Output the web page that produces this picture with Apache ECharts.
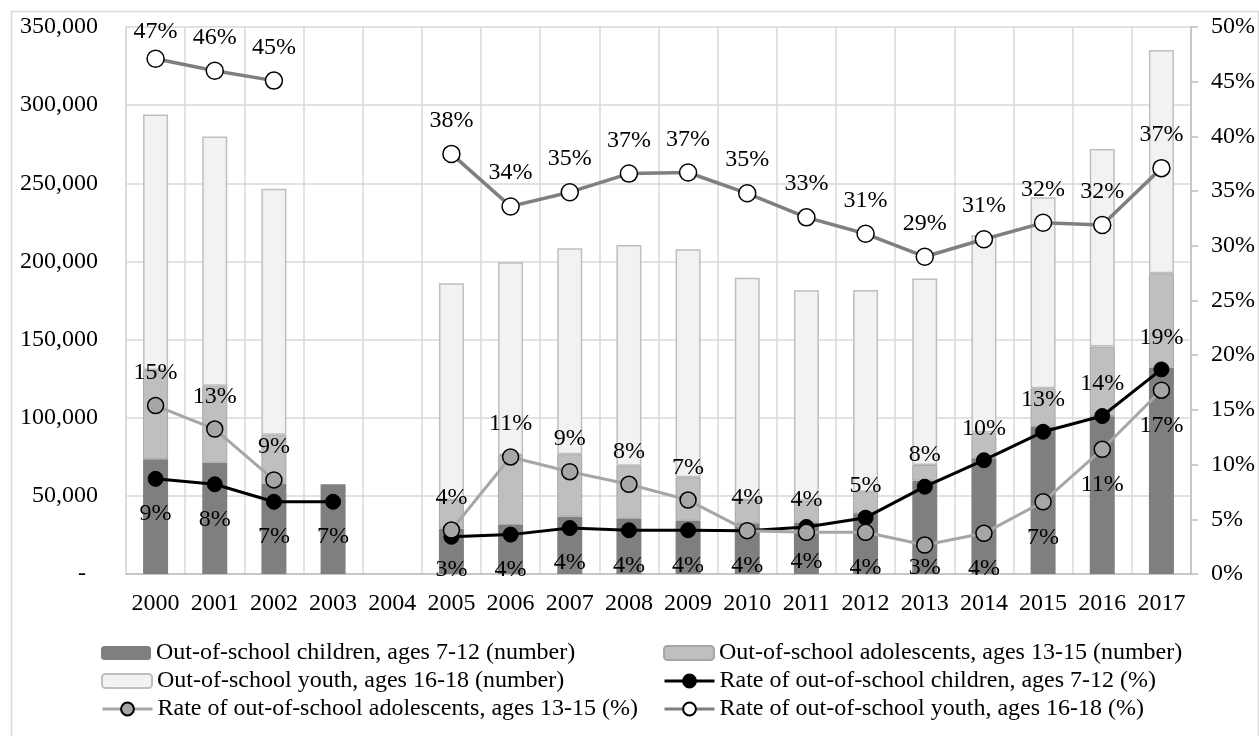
<!DOCTYPE html>
<html>
<head>
<meta charset="utf-8">
<script src="https://cdn.jsdelivr.net/npm/echarts@6/dist/echarts.min.js"></script>
<style>
  html, body { margin: 0; padding: 0; background: #ffffff; }
  #chart { width: 1259px; height: 736px; }
</style>
</head>
<body>
<div id="chart"></div>
<script>
// Years on the category axis
const years = ['2000', '2001', '2002', '2003', '2004', '2005', '2006', '2007', '2008',
  '2009', '2010', '2011', '2012', '2013', '2014', '2015', '2016', '2017'];

// Out-of-school numbers (left axis), stacked
const childrenNumber = [73500, 71200, 57800, 57500, null, 29000, 31350, 36700, 35200,
  34100, 32400, 33000, 38800, 59700, 74000, 94300, 101000, 132000];
const adolescentsNumber = [57000, 49300, 31350, null, null, 18350, 44800, 39900, 34100,
  27800, 14950, 14000, 13900, 10050, 16500, 24500, 44500, 60400];
const youthNumber = [163500, 159500, 157350, null, null, 138650, 123350, 131800, 141200,
  145850, 142250, 134500, 129000, 119250, 126200, 122200, 126500, 142900];

// Out-of-school rates in percent (right axis)
const childrenRate = [8.7, 8.2, 6.6, 6.6, null, 3.4, 3.6, 4.2, 4.0,
  4.0, 3.96, 4.3, 5.15, 7.98, 10.4, 13.0, 14.44, 18.7];
const adolescentsRate = [15.4, 13.25, 8.6, null, null, 4.02, 10.7, 9.35, 8.2,
  6.76, 3.96, 3.81, 3.81, 2.65, 3.72, 6.6, 11.4, 16.8];
const youthRate = [47.1, 46.0, 45.1, null, null, 38.4, 33.6, 34.9, 36.6,
  36.7, 34.8, 32.6, 31.1, 29.0, 30.6, 32.1, 31.9, 37.1];

// Axis ticks
const numberTicks = { min: 0, max: 350000, interval: 50000 };
const rateTicks = { min: 0, max: 50, interval: 5 };

const names = {
  cNum: 'Out-of-school children, ages 7-12 (number)',
  aNum: 'Out-of-school adolescents, ages 13-15 (number)',
  yNum: 'Out-of-school youth, ages 16-18 (number)',
  cRate: 'Rate of out-of-school children, ages 7-12 (%)',
  aRate: 'Rate of out-of-school adolescents, ages 13-15 (%)',
  yRate: 'Rate of out-of-school youth, ages 16-18 (%)'
};

const FONT = "'Liberation Serif', 'Times New Roman', serif";
const FS = 24;
const pct = p => Math.round(p.value) + '%';

// From 2012 on the children labels sit above and the adolescent labels below
const switchIdx = years.indexOf('2012');

function rateData(values, placeFn) {
  return values.map((v, i) => {
    if (v === null) return null;
    return { value: v, label: placeFn(i) };
  });
}

const childrenData = rateData(childrenRate, i => i < switchIdx
  ? { position: 'bottom', distance: years[i] === '2005' ? 13 : 15 }
  : { position: 'top', distance: 12 });
const adolescentsData = rateData(adolescentsRate, i => i < switchIdx
  ? { position: 'top', distance: 12 }
  : { position: 'bottom', distance: years[i] === '2013' ? 2 : 15 });
const youthData = rateData(youthRate, i => ({ position: 'top', distance: years[i] === '2000' ? 6 : 12 }));

const labelBase = { show: true, formatter: pct, color: '#000', fontFamily: FONT, fontSize: FS };

function legendAt(name, left, top, isLine) {
  return {
    data: [name], left: left, top: top, orient: 'horizontal', padding: 0,
    itemWidth: 50, itemHeight: isLine ? 16 : 14, selectedMode: false,
    lineStyle: isLine ? { width: 3 } : undefined,
    textStyle: { fontFamily: FONT, fontSize: FS, color: '#000', lineHeight: 26 }
  };
}

const chart = echarts.init(document.getElementById('chart'), null, { renderer: 'canvas' });

chart.setOption({
  animation: false,
  backgroundColor: '#ffffff',
  textStyle: { fontFamily: FONT },
  graphic: [{
    type: 'rect', silent: true, z: -10,
    shape: { x: 11.5, y: 11.5, width: 1247, height: 740 },
    style: { fill: 'none', stroke: '#d9d9d9', lineWidth: 1.5 }
  }],
  grid: { left: 126, right: 68, top: 27, bottom: 162, containLabel: false },
  legend: [
    legendAt(names.cNum, 101, 640, false),
    legendAt(names.yNum, 101, 668, false),
    legendAt(names.aRate, 101, 696, true),
    legendAt(names.aNum, 663, 640, false),
    legendAt(names.cRate, 663, 668, true),
    legendAt(names.yRate, 663, 696, true)
  ],
  xAxis: {
    type: 'category', data: years, boundaryGap: true,
    axisLine: { show: true, lineStyle: { color: '#bfbfbf', width: 1.5 } },
    axisTick: { show: false },
    axisLabel: { color: '#000', fontFamily: FONT, fontSize: FS, margin: 18, interval: 0 },
    splitLine: { show: true, interval: 0, lineStyle: { color: '#d9d9d9', width: 1.5 } }
  },
  yAxis: [{
    type: 'value', position: 'left', ...numberTicks,
    axisLine: { show: true, lineStyle: { color: '#d9d9d9', width: 1.5 } },
    axisTick: { show: false },
    axisLabel: {
      color: '#000', fontFamily: FONT, fontSize: FS, margin: 28,
      formatter: v => v === 0 ? '-  ' : v.toLocaleString('en-US')
    },
    splitLine: { show: true, lineStyle: { color: '#d9d9d9', width: 1.5 } }
  }, {
    type: 'value', position: 'right', ...rateTicks,
    axisLine: { show: true, lineStyle: { color: '#bfbfbf', width: 1.5 } },
    axisTick: { show: true, inside: false, length: 7, lineStyle: { color: '#bfbfbf', width: 1.5 } },
    axisLabel: { color: '#000', fontFamily: FONT, fontSize: FS, margin: 20, formatter: '{value}%' },
    splitLine: { show: false }
  }],
  series: [{
    name: names.cNum, type: 'bar', stack: 'num', yAxisIndex: 0, barWidth: 25,
    data: childrenNumber,
    itemStyle: { color: '#7f7f7f', borderColor: '#7f7f7f', borderWidth: 0 }
  }, {
    name: names.aNum, type: 'bar', stack: 'num', yAxisIndex: 0, barWidth: 25,
    data: adolescentsNumber,
    itemStyle: { color: '#bfbfbf', borderColor: '#a6a6a6', borderWidth: 1 }
  }, {
    name: names.yNum, type: 'bar', stack: 'num', yAxisIndex: 0, barWidth: 25,
    data: youthNumber,
    itemStyle: { color: '#f2f2f2', borderColor: '#bfbfbf', borderWidth: 1.5 }
  }, {
    name: names.cRate, type: 'line', yAxisIndex: 1, connectNulls: false, z: 3,
    data: childrenData,
    symbol: 'circle', symbolSize: 15,
    lineStyle: { color: '#000', width: 3 },
    itemStyle: { color: '#000', borderColor: '#000', borderWidth: 1 },
    label: labelBase
  }, {
    name: names.aRate, type: 'line', yAxisIndex: 1, connectNulls: false, z: 4,
    data: adolescentsData,
    symbol: 'circle', symbolSize: 16,
    lineStyle: { color: '#a6a6a6', width: 3 },
    itemStyle: { color: '#a6a6a6', borderColor: '#000', borderWidth: 1.5 },
    label: labelBase
  }, {
    name: names.yRate, type: 'line', yAxisIndex: 1, connectNulls: false, z: 5,
    data: youthData,
    symbol: 'circle', symbolSize: 17,
    lineStyle: { color: '#7f7f7f', width: 3.5 },
    itemStyle: { color: '#ffffff', borderColor: '#000', borderWidth: 1.5 },
    label: labelBase
  }]
});
</script>
</body>
</html>
